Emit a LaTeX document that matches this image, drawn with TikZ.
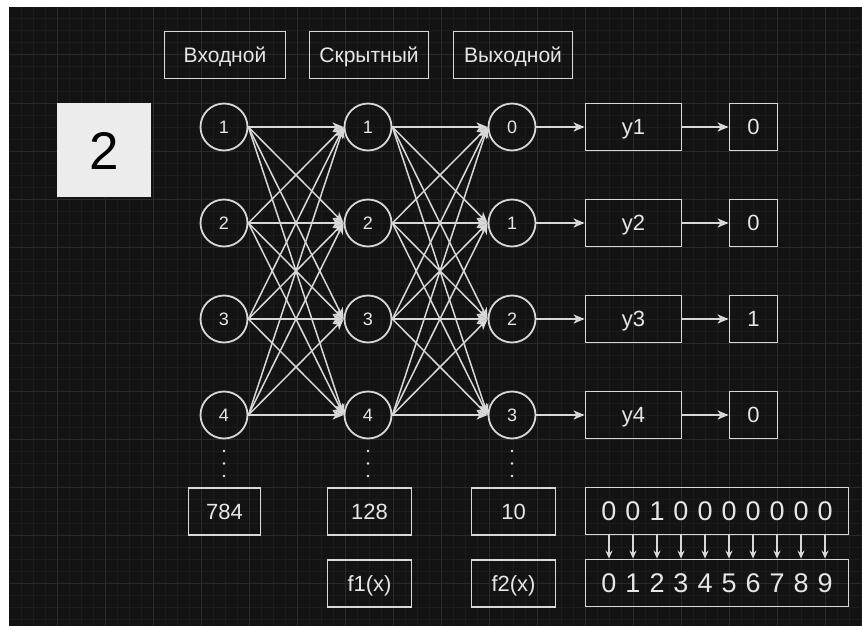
\documentclass[tikz,border=0pt]{standalone}
\usepackage{fontspec}
\setmainfont{Liberation Sans}
\usetikzlibrary{arrows.meta}
\definecolor{bg}{HTML}{131313}
\definecolor{gminor}{HTML}{1C1C1C}
\definecolor{gmajor}{HTML}{2A2A2A}
\definecolor{fg}{HTML}{D8D8D8}
\definecolor{tx}{HTML}{E6E6E6}
\definecolor{boxfill}{HTML}{ECECEC}
\tikzset{
  txt/.style={text=tx, text depth=0pt, inner sep=0pt},
  fa/.style={font=\fontsize{18}{20}\selectfont, text height=12.96pt},
  fb/.style={font=\fontsize{21}{24}\selectfont, text height=15.1pt},
  fc/.style={font=\fontsize{22}{24}\selectfont, text height=15.84pt},
  fd/.style={font=\fontsize{27}{30}\selectfont, text height=19.44pt},
  neuron/.style={circle, draw=fg, line width=1.8pt, minimum size=47pt, txt, fa},
  lbox/.style={rectangle, draw=fg, line width=1.8pt, txt, minimum height=47pt},
  conn/.style={draw=fg, line width=1.5pt, -{Stealth[length=11pt,width=9pt,inset=3pt]}},
  sconn/.style={draw=fg, line width=1.4pt, -{Stealth[length=8pt,width=7pt,inset=2.5pt]}},
  digit/.style={txt, fd},
}
\begin{document}
\begin{tikzpicture}[x=1pt,y=-1pt]
\fill[white] (0,0) rectangle (862,626);
\useasboundingbox (0,0) rectangle (862,626);
\fill[bg] (9,7) rectangle (862,626);
% grid
\foreach \x in {21,33,...,862} \draw[gminor, line width=1pt] (\x,7) -- (\x,626);
\foreach \y in {19,31,...,626} \draw[gminor, line width=1pt] (9,\y) -- (862,\y);
\foreach \x in {57,105,...,862} \draw[gmajor, line width=1pt] (\x,7) -- (\x,626);
\foreach \y in {55,103,...,626} \draw[gmajor, line width=1pt] (9,\y) -- (862,\y);

% big 2
\node[fill=boxfill, minimum width=94pt, minimum height=94pt, inner sep=0pt, text height=38.2pt, text depth=0pt, text=black, font=\fontsize{53}{60}\selectfont] (two) at (104,150) {2};

% headers
\node[lbox, minimum width=121pt, fb] (hin) at (225,55) {Входной};
\node[lbox, minimum width=119pt, fb] (hhid) at (369,55) {Скрытный};
\node[lbox, minimum width=119pt, fb] (hout) at (513,55) {Выходной};

% neurons
\foreach \i/\y in {1/127,2/223,3/319,4/415} {
  \node[neuron] (i\i) at (224,\y) {\i};
  \node[neuron] (h\i) at (368,\y) {\i};
}
\foreach \i/\l/\y in {1/0/127,2/1/223,3/2/319,4/3/415} {
  \node[neuron] (o\i) at (512,\y) {\l};
}

% connections
\foreach \a in {1,...,4} {
  \foreach \b in {1,...,4} {
    \draw[conn] (i\a.east) -- (h\b.west);
    \draw[conn] (h\a.east) -- (o\b.west);
  }
}

% y boxes and values
\foreach \i/\v/\y in {1/0/127,2/0/223,3/1/319,4/0/415} {
  \node[lbox, minimum width=96pt, fc] (y\i) at (633.5,\y) {y\i};
  \node[lbox, minimum width=48pt, fc] (v\i) at (753.5,\y) {\v};
  \draw[conn] (o\i.east) -- (y\i.west);
  \draw[conn] (y\i.east) -- (v\i.west);
}

% vertical dots
\foreach \x in {224,368,512} {
  \foreach \y in {451,463.5,476} \fill[tx] (\x,\y) circle (1.3pt);
}

% size boxes
\node[lbox, minimum width=72pt, fc] (n784) at (224.5,511.5) {784};
\node[lbox, minimum width=84pt, fc] (n128) at (369.5,511.5) {128};
\node[lbox, minimum width=84pt, fc] (n10) at (513.5,511.5) {10};
\node[lbox, minimum width=84pt, fc] (f1) at (369.5,583.5) {f1(x)};
\node[lbox, minimum width=84pt, fc] (f2) at (513.5,583.5) {f2(x)};

% one-hot row
\node[lbox, minimum width=263pt] (bin) at (717,511) {};
\node[lbox, minimum width=263pt] (dig) at (717,583) {};
\foreach \k/\v in {0/0,1/0,2/1,3/0,4/0,5/0,6/0,7/0,8/0,9/0} {
  \node[digit] (b\k) at (609+24*\k,511) {\v};
  \node[digit] (c\k) at (609+24*\k,583) {\k};
  \draw[sconn] (b\k |- bin.south) -- (c\k |- dig.north);
}
\end{tikzpicture}
\end{document}
